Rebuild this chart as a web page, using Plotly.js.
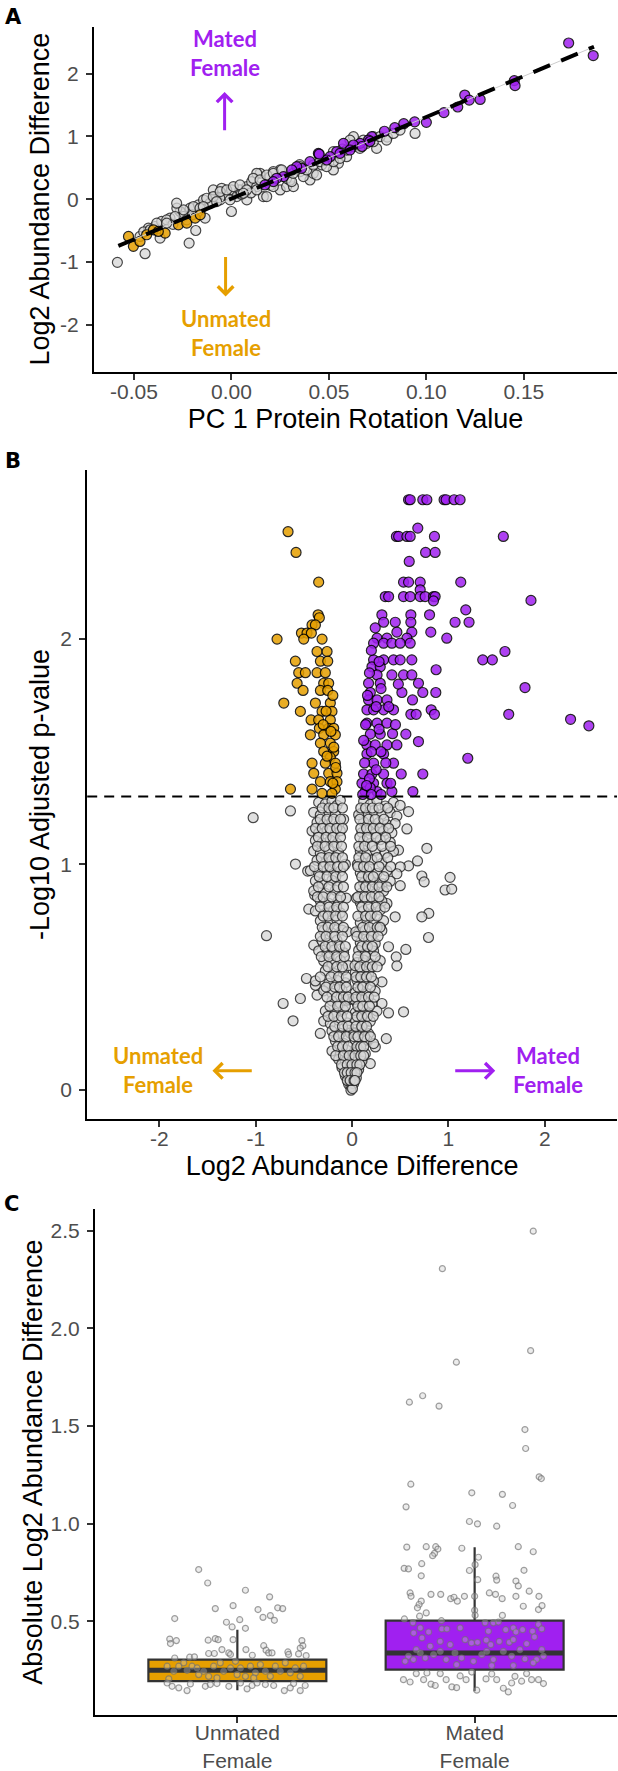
<!DOCTYPE html>
<html>
<head>
<meta charset="utf-8">
<script src="https://cdn.plot.ly/plotly-3.0.1.min.js"></script>
<style>html,body{margin:0;padding:0;background:#fff;}#chart{width:618px;height:1771px;}</style>
</head>
<body>
<div id="chart"></div>
<script>
// ---------- Panel A: PC1 rotation vs log2 abundance difference ----------
const pcaGray = [[-0.0585,-1.007],[-0.0443,-0.869],[-0.0217,-0.700],[-0.0183,-0.499],[-0.0366,-0.620],[0.000,-0.196],[-0.0135,-0.302],[0.0942,1.048],[0.0745,0.810],[0.0549,0.572],[0.0626,0.996],[0.0403,0.306],[0.0352,0.439],[0.025,0.148],[0.0164,0.042],[-0.0392,-0.435],[-0.0358,-0.355],[-0.0315,-0.302],[-0.0263,-0.196],[-0.0246,-0.276],[-0.0212,-0.143],[-0.0169,-0.090],[-0.0143,-0.011],[-0.011,-0.064],[-0.0084,0.042],[-0.0058,-0.011],[-0.0033,0.069],[0.0001,0.148],[0.0027,0.042],[0.0044,0.148],[0.0079,0.201],[0.0104,0.280],[0.013,0.201],[0.0147,0.413],[0.0198,0.360],[0.025,0.466],[0.0283,0.201],[0.0318,0.201],[0.0369,0.360],[0.042,0.413],[0.0463,0.546],[0.0523,0.466],[0.0591,0.678],[0.0677,0.943],[0.0728,0.996],[-0.0093,0.148],[-0.005,0.174],[-0.028,-0.143],[-0.0332,-0.329],[-0.0426,-0.461],[-0.0469,-0.594],[0.0079,-0.011],[0.0181,0.042],[0.0215,0.440],[0.013,0.413],[0.030,0.30],[0.048,0.62],[0.057,0.80],[0.066,0.84],[0.080,0.99],[-0.020,-0.25],[-0.006,0.02],[0.005,0.08],[0.010,0.10],[0.020,0.22],[0.035,0.55],[0.045,0.70],[-0.030,-0.40],[-0.045,-0.52],
[-0.0417,-0.488],[-0.0383,-0.382],[-0.0332,-0.382],[-0.0289,-0.276],[-0.0246,-0.170],[-0.0195,-0.117],[-0.0161,-0.143],[-0.0127,0.015],[-0.0093,0.042],[-0.0058,0.121],[-0.0024,0.148],[0.0010,0.201],[0.0044,0.227],[0.0078,0.148],[0.0112,0.333],[0.0147,0.307],[0.0181,0.386],[0.0215,0.413],[0.0258,0.466],[0.0283,0.333],[0.0309,0.280],[0.0352,0.519],[0.0386,0.466],[0.0420,0.545],[0.0454,0.598],[0.0488,0.519],[0.0523,0.598],[0.0557,0.651],[0.0591,0.783],[0.0625,0.837],[0.0659,0.810],[0.0694,0.890],[0.0728,0.916],[0.0762,0.996],[0.0796,0.942],[0.0831,1.048],[0.0865,1.101],[-0.0281,-0.064],[-0.0229,-0.329],[-0.0144,-0.117],[-0.0076,-0.038],[-0.0007,-0.011],[0.0061,0.095],[0.0130,0.148],[0.0215,0.201],[0.0317,0.413],[0.0437,0.386],[0.0523,0.757],[0.0608,0.942]];
const pcaUnmated = [[-0.0528,-0.594],[-0.0503,-0.752],[-0.0469,-0.673],[-0.0435,-0.567],[-0.040,-0.488],[-0.034,-0.541],[-0.0272,-0.408],[-0.0229,-0.382],[-0.0186,-0.302],[-0.016,-0.249],[-0.0375,-0.514]];
const pcaMated = [[0.173,2.49],[0.1856,2.29],[0.1451,1.89],[0.1455,1.81],[0.1197,1.66],[0.1161,1.47],[0.122,1.58],[0.1276,1.59],[0.109,1.38],[0.100,1.225],[0.094,1.233],[0.0884,1.204],[0.0838,1.14],[0.0785,1.083],[0.072,0.996],[0.0703,0.943],[0.066,0.89],[0.0626,0.864],[0.0575,0.89],[0.054,0.758],[0.0506,0.678],[0.0557,0.731],[0.0446,0.731],[0.0489,0.625],[0.0403,0.599],[0.036,0.492],[0.0335,0.519],[0.031,0.466],[0.0267,0.36],[0.0232,0.333],[0.0215,0.28],[0.0172,0.227],[0.0608,0.784],[0.067,0.84],[0.071,0.92],[0.045,0.72]];
const fitX = [-0.058, 0.186];
const fitY = [-0.745, 2.43];

// ---------- Panel B: volcano ----------
const volcanoGray = [
[-1.027,1.207],[-0.640,1.237],[-0.588,1.001],[-0.889,0.683],[-0.450,0.801],[-0.474,0.493],[-0.716,0.382],[-0.613,0.305],[-0.537,0.404],[-0.364,0.419],[-0.330,0.249],[-0.381,0.463],[-0.398,0.641],[-0.461,0.970],[-0.388,0.863],
[0.776,1.071],[0.569,1.157],[0.586,1.234],[0.679,1.015],[0.586,0.993],[0.500,0.989],[0.724,0.948],[0.748,0.922],[1.017,0.942],[0.965,0.886],[1.034,0.890],[0.500,0.905],[0.796,0.782],[0.724,0.767],[0.793,0.675],[0.447,0.767],[0.378,0.634],[0.558,0.622],[0.458,0.589],[0.465,0.549],[0.310,0.478],[0.310,0.382],[0.534,0.345],[0.378,0.340],[0.355,0.226],[0.241,0.189],[0.189,0.115],[0.482,1.063],[0.310,0.900],[0.362,0.826],[0.293,0.722],
[-0.347,1.275],[-0.278,1.268],[-0.209,1.281],[-0.157,1.262],[-0.122,1.284],[0.120,1.279],[0.189,1.266],[0.258,1.283],[0.344,1.259],[0.430,1.275],[0.499,1.262],
[-0.399,1.231],[-0.330,1.219],[-0.243,1.234],[-0.174,1.221],[0.102,1.229],[0.154,1.215],[0.223,1.238],[0.309,1.222],[0.396,1.230],[0.465,1.214],
[-0.364,1.186],[-0.295,1.177],[-0.209,1.190],[-0.140,1.175],[0.120,1.188],[0.206,1.172],[0.275,1.185],[0.361,1.176],[0.447,1.181],
[-0.416,1.148],[-0.347,1.139],[-0.260,1.151],[-0.174,1.137],[-0.122,1.149],[0.102,1.141],[0.171,1.152],[0.240,1.136],[0.327,1.147],[0.413,1.140],
[-0.381,1.106],[-0.312,1.095],[-0.226,1.108],[-0.157,1.093],[0.120,1.104],[0.189,1.092],[0.292,1.109],[0.396,1.097],
[-0.399,1.060],[-0.330,1.049],[-0.243,1.063],[-0.140,1.051],[0.085,1.058],[0.154,1.047],[0.240,1.062],[0.344,1.050],[0.430,1.057],
[-0.364,1.017],[-0.278,1.005],[-0.209,1.019],[0.102,1.008],[0.206,1.020],[0.309,1.004],
[-0.433,0.972],[-0.347,0.961],[-0.260,0.975],[-0.191,0.959],[-0.122,0.970],[0.085,0.962],[0.154,0.974],[0.258,0.960],[0.361,0.971],[0.465,0.958],
[-0.381,0.926],[-0.312,0.915],[-0.209,0.929],[0.120,0.917],[0.189,0.930],[0.309,0.914],[0.396,0.925],
[-0.399,0.882],[-0.278,0.871],[-0.174,0.885],[0.102,0.874],[0.171,0.886],[0.240,0.869],[0.327,0.881],
[-0.330,0.838],[-0.243,0.827],[-0.140,0.841],[0.085,0.830],[0.154,0.842],[0.258,0.826],[0.309,0.837],
[-0.381,0.793],[-0.278,0.782],[-0.191,0.796],[-0.122,0.784],[0.120,0.794],[0.206,0.781],[0.292,0.797],
[-0.330,0.749],[-0.226,0.738],[-0.157,0.752],[0.085,0.741],[0.154,0.753],[0.223,0.737],[0.327,0.750],
[-0.295,0.705],[-0.209,0.694],[-0.105,0.708],[0.068,0.697],[0.137,0.709],[0.223,0.693],[0.309,0.706],
[-0.312,0.660],[-0.243,0.649],[-0.157,0.663],[0.085,0.652],[0.171,0.664],[0.240,0.648],
[-0.347,0.616],[-0.260,0.605],[-0.191,0.619],[-0.088,0.608],[0.068,0.618],[0.137,0.604],[0.223,0.615],
[-0.295,0.571],[-0.209,0.560],[-0.122,0.574],[0.050,0.563],[0.120,0.575],[0.189,0.559],[0.292,0.572],
[-0.278,0.527],[-0.191,0.516],[-0.088,0.530],[0.033,0.519],[0.102,0.531],[0.171,0.515],
[-0.381,0.482],[-0.243,0.471],[-0.157,0.485],[-0.070,0.474],[0.050,0.486],[0.120,0.470],[0.223,0.481],
[-0.295,0.438],[-0.209,0.427],[-0.105,0.441],[0.033,0.430],[0.085,0.442],[0.154,0.426],[0.240,0.437],
[-0.209,0.393],[-0.122,0.382],[-0.053,0.396],[0.050,0.385],[0.120,0.397],[0.206,0.381],
[-0.278,0.349],[-0.174,0.338],[-0.088,0.352],[0.033,0.341],[0.085,0.353],[0.154,0.337],[0.258,0.348],
[-0.295,0.304],[-0.226,0.293],[-0.140,0.307],[-0.053,0.296],[0.033,0.308],[0.120,0.292],[0.189,0.303],
[-0.209,0.260],[-0.122,0.249],[-0.036,0.263],[0.023,0.252],[0.085,0.264],[0.171,0.248],
[-0.174,0.216],[-0.088,0.205],[0.033,0.219],[0.102,0.208],[0.154,0.220],[0.223,0.204],
[-0.209,0.171],[-0.122,0.160],[-0.053,0.174],[0.016,0.163],[0.068,0.175],[0.137,0.159],
[-0.140,0.134],[-0.070,0.123],[0.033,0.137],[0.102,0.126],
[-0.105,0.097],[-0.036,0.086],[0.016,0.100],[0.068,0.089],
[-0.070,0.060],[-0.026,0.049],[0.009,0.063],[0.044,0.052],
[-0.036,0.023],[-0.012,0.012],[0.016,0.026],[-0.012,-0.003],[0.004,0.004],
[-0.088,1.20],[-0.070,1.00],[-0.060,0.85],[-0.050,0.70],[-0.040,0.55],[-0.030,0.40],[-0.020,0.25],
[0.068,1.22],[0.055,1.00],[0.045,0.85],[0.038,0.70],[0.030,0.55],[0.022,0.40],[0.014,0.25],
[-0.31,1.25],[-0.24,1.25],[-0.19,1.25],[-0.10,1.25],[0.09,1.25],[0.14,1.25],[0.21,1.25],[0.28,1.25],[0.37,1.25],
[-0.33,1.20],[-0.26,1.20],[-0.19,1.20],[-0.12,1.20],[0.08,1.20],[0.17,1.20],[0.24,1.20],[0.33,1.20],
[-0.38,1.16],[-0.31,1.16],[-0.23,1.16],[-0.16,1.16],[-0.10,1.16],[0.09,1.16],[0.15,1.16],[0.22,1.16],[0.29,1.16],[0.38,1.16],
[-0.35,1.12],[-0.27,1.12],[-0.20,1.12],[-0.12,1.12],[0.08,1.12],[0.16,1.12],[0.25,1.12],[0.35,1.12],
[-0.36,1.08],[-0.28,1.08],[-0.19,1.08],[-0.11,1.08],[0.07,1.08],[0.13,1.08],[0.21,1.08],[0.31,1.08],[0.40,1.08],
[-0.32,1.03],[-0.24,1.03],[-0.17,1.03],[-0.10,1.03],[0.07,1.03],[0.14,1.03],[0.26,1.03],[0.37,1.03],
[-0.39,0.99],[-0.30,0.99],[-0.23,0.99],[-0.15,0.99],[-0.09,0.99],[0.06,0.99],[0.12,0.99],[0.18,0.99],[0.28,0.99],[0.40,0.99],
[-0.34,0.945],[-0.26,0.945],[-0.17,0.945],[-0.10,0.945],[0.10,0.945],[0.17,0.945],[0.22,0.945],[0.33,0.945],
[-0.35,0.90],[-0.24,0.90],[-0.15,0.90],[-0.09,0.90],[0.08,0.90],[0.14,0.90],[0.21,0.90],[0.28,0.90],[0.36,0.90],
[-0.36,0.855],[-0.30,0.855],[-0.21,0.855],[-0.12,0.855],[0.06,0.855],[0.13,0.855],[0.20,0.855],[0.28,0.855],
[-0.33,0.81],[-0.24,0.81],[-0.16,0.81],[-0.09,0.81],[0.10,0.81],[0.17,0.81],[0.25,0.81],[0.34,0.81],
[-0.30,0.77],[-0.25,0.77],[-0.17,0.77],[-0.10,0.77],[0.06,0.77],[0.14,0.77],[0.19,0.77],[0.26,0.77],
[-0.31,0.72],[-0.25,0.72],[-0.18,0.72],[-0.09,0.72],[0.11,0.72],[0.18,0.72],[0.26,0.72],[0.29,0.72],
[-0.33,0.68],[-0.27,0.68],[-0.18,0.68],[-0.10,0.68],[0.05,0.68],[0.12,0.68],[0.20,0.68],[0.27,0.68],
[-0.28,0.635],[-0.21,0.635],[-0.13,0.635],[-0.07,0.635],[0.10,0.635],[0.16,0.635],[0.21,0.635],
[-0.32,0.59],[-0.24,0.59],[-0.16,0.59],[-0.08,0.59],[0.06,0.59],[0.14,0.59],[0.24,0.59],
[-0.25,0.545],[-0.16,0.545],[-0.10,0.545],[0.08,0.545],[0.15,0.545],[0.21,0.545],[0.26,0.545],
[-0.33,0.50],[-0.22,0.50],[-0.14,0.50],[-0.06,0.50],[0.04,0.50],[0.09,0.50],[0.15,0.50],[0.20,0.50],
[-0.27,0.455],[-0.18,0.455],[-0.13,0.455],[-0.06,0.455],[0.06,0.455],[0.11,0.455],[0.19,0.455],
[-0.26,0.41],[-0.16,0.41],[-0.09,0.41],[-0.04,0.41],[0.04,0.41],[0.10,0.41],[0.17,0.41],[0.23,0.41],
[-0.23,0.37],[-0.15,0.37],[-0.07,0.37],[0.06,0.37],[0.11,0.37],[0.18,0.37],
[-0.25,0.325],[-0.19,0.325],[-0.11,0.325],[-0.05,0.325],[0.05,0.325],[0.10,0.325],[0.16,0.325],[0.22,0.325],
[-0.18,0.28],[-0.10,0.28],[-0.04,0.28],[0.04,0.28],[0.10,0.28],[0.15,0.28],
[-0.19,0.235],[-0.14,0.235],[-0.06,0.235],[0.02,0.235],[0.06,0.235],[0.13,0.235],[0.19,0.235],
[-0.15,0.19],[-0.10,0.19],[-0.04,0.19],[0.05,0.19],[0.09,0.19],[0.12,0.19],
[-0.17,0.15],[-0.09,0.15],[-0.03,0.15],[0.03,0.15],[0.09,0.15],[0.12,0.15],
[-0.11,0.11],[-0.05,0.11],[0.00,0.11],[0.05,0.11],[0.08,0.11],
[-0.08,0.075],[-0.05,0.075],[-0.01,0.075],[0.03,0.075],[0.05,0.075],
[-0.05,0.04],[-0.02,0.04],[0.02,0.04],[0.03,0.04]
];
const volcanoUnmated = [[-0.665,2.477],[-0.582,2.385],[-0.347,2.253],[-0.353,2.108],[-0.340,2.095],[-0.416,2.063],[-0.381,2.063],[-0.526,2.027],[-0.468,2.027],[-0.423,2.027],[-0.779,2.0],[-0.502,2.0],[-0.312,2.0],[-0.364,1.945],[-0.260,1.945],[-0.589,1.902],[-0.329,1.902],[-0.253,1.902],[-0.554,1.851],[-0.485,1.851],[-0.364,1.851],[-0.278,1.851],[-0.571,1.804],[-0.295,1.804],[-0.243,1.804],[-0.509,1.772],[-0.329,1.772],[-0.253,1.772],[-0.709,1.716],[-0.381,1.716],[-0.226,1.716],[-0.537,1.679],[-0.312,1.679],[-0.209,1.679],[-0.426,1.641],[-0.347,1.641],[-0.226,1.641],[-0.340,1.604],[-0.243,1.604],[-0.191,1.604],[-0.433,1.575],[-0.295,1.575],[-0.174,1.575],[-0.329,1.538],[-0.226,1.538],[-0.295,1.501],[-0.191,1.501],[-0.226,1.475],[-0.416,1.449],[-0.278,1.449],[-0.174,1.449],[-0.398,1.404],[-0.243,1.404],[-0.157,1.404],[-0.329,1.367],[-0.226,1.367],[-0.157,1.367],[-0.640,1.334],[-0.416,1.334],[-0.174,1.334],[-0.312,1.315],[-0.209,1.315],[-0.20,1.75],[-0.27,1.68],[-0.19,1.52],[-0.17,1.43],[-0.22,1.59],[-0.30,1.62],[-0.26,1.48],[-0.20,1.36]];
const volcanoMated = [[0.586,2.619],[0.603,2.619],[0.734,2.619],[0.776,2.619],[0.955,2.619],[0.976,2.619],[1.059,2.619],[1.121,2.619],[0.460,2.456],[0.483,2.456],[0.569,2.456],[0.603,2.456],[0.855,2.456],[1.570,2.456],[0.682,2.493],[0.763,2.385],[0.862,2.385],[0.593,2.345],[0.534,2.253],[0.586,2.253],[0.707,2.253],[1.128,2.253],[0.707,2.219],[0.344,2.189],[0.379,2.189],[0.534,2.189],[0.603,2.189],[0.707,2.189],[0.758,2.189],[0.845,2.189],[0.862,2.189],[0.845,2.170],[1.857,2.172],[1.180,2.130],[0.309,2.108],[0.610,2.108],[0.804,2.108],[0.327,2.075],[0.448,2.075],[0.610,2.075],[1.069,2.075],[1.214,2.075],[0.465,2.031],[0.620,2.031],[0.817,2.031],[0.259,2.004],[0.362,2.004],[0.569,2.004],[0.983,2.004],[0.223,1.982],[0.327,1.982],[0.413,1.982],[0.499,1.982],[0.603,1.982],[1.587,1.945],[0.223,1.908],[0.327,1.908],[0.430,1.908],[0.499,1.908],[0.620,1.908],[1.356,1.908],[1.456,1.908],[0.872,1.864],[0.206,1.877],[0.292,1.877],[0.259,1.841],[0.413,1.841],[0.534,1.841],[0.620,1.841],[0.171,1.804],[0.292,1.804],[0.689,1.804],[1.795,1.785],[0.189,1.763],[0.517,1.763],[0.734,1.763],[0.869,1.763],[0.171,1.730],[0.259,1.730],[0.362,1.730],[0.627,1.730],[0.154,1.686],[0.223,1.686],[0.327,1.686],[0.430,1.686],[0.821,1.686],[0.610,1.666],[0.665,1.666],[0.855,1.666],[1.626,1.666],[2.268,1.644],[2.458,1.615],[0.154,1.627],[0.259,1.627],[0.362,1.627],[0.189,1.578],[0.292,1.578],[0.558,1.578],[0.689,1.545],[0.154,1.530],[0.240,1.530],[0.362,1.530],[0.465,1.530],[0.154,1.490],[0.327,1.490],[1.201,1.471],[0.223,1.449],[0.430,1.449],[0.119,1.401],[0.206,1.401],[0.327,1.401],[0.510,1.401],[0.734,1.401],[0.102,1.360],[0.223,1.360],[0.362,1.360],[0.136,1.323],[0.259,1.323],[0.413,1.323],[0.631,1.323],[0.189,1.340],[0.13,1.45],[0.12,1.55],[0.14,1.62],[0.16,1.75],[0.18,1.85],[0.20,1.95],[0.25,1.70],[0.28,1.60],[0.30,1.50],[0.20,1.50],[0.25,1.42],[0.18,1.38],[0.28,1.90],[0.24,2.05],[0.30,1.78],[0.38,1.70],[0.42,1.58],[0.35,1.45],[0.11,1.31],[0.15,1.35],[0.20,1.31],[0.30,1.31],[0.40,1.36],[0.45,1.62],[0.48,1.80]];
const pThreshold = 1.301;

// ---------- Panel C: box plot of absolute log2 differences ----------
const groups = ['Unmated<br>Female', 'Mated<br>Female'];
const groupPos = [1, 2];
const groupColors = ['#E69F00', '#A020F0'];
const boxLower = [0.147, 0.141];
const boxQ1 = [0.193, 0.252];
const boxMedian = [0.249, 0.338];
const boxQ3 = [0.304, 0.503];
const boxUpper = [0.457, 0.879];
// jittered sample points: [x (group position + jitter), |log2 difference|]
const absUnmated = [[0.837,0.765],[0.875,0.696],[1.034,0.659],[1.136,0.625],[0.736,0.514],[0.907,0.565],[0.982,0.580],[1.087,0.560],[1.170,0.569],[1.191,0.565],[1.108,0.520],[1.139,0.529],[1.156,0.505],[0.954,0.495],[0.978,0.471],[1.010,0.508],[1.034,0.464],[0.715,0.409],[0.718,0.386],[0.743,0.401],[0.877,0.403],[0.907,0.411],[0.919,0.406],[0.982,0.406],[1.272,0.401],[1.276,0.375],[1.265,0.363],[0.879,0.335],[0.903,0.335],[0.935,0.355],[0.964,0.338],[0.971,0.330],[1.036,0.355],[1.063,0.326],[1.111,0.375],[1.121,0.352],[1.132,0.338],[1.146,0.338],[1.213,0.343],[1.216,0.330],[1.258,0.333],[1.290,0.324],[0.799,0.316],[0.819,0.318],[0.736,0.312],[0.704,0.270],[0.732,0.244],[0.753,0.270],[0.774,0.287],[0.788,0.249],[0.809,0.270],[0.837,0.227],[0.858,0.244],[0.879,0.218],[0.900,0.270],[0.928,0.287],[0.942,0.244],[0.971,0.261],[0.992,0.295],[0.999,0.227],[1.013,0.261],[1.034,0.218],[1.055,0.270],[1.076,0.236],[1.097,0.278],[1.118,0.244],[1.139,0.218],[1.160,0.270],[1.181,0.244],[1.202,0.287],[1.223,0.236],[1.244,0.261],[1.265,0.218],[1.279,0.270],[0.711,0.205],[0.830,0.261],[0.914,0.210],[1.069,0.210],[0.704,0.184],[0.725,0.167],[0.753,0.159],[0.788,0.145],[0.802,0.179],[0.865,0.167],[0.886,0.176],[0.914,0.181],[0.964,0.167],[1.013,0.184],[1.041,0.154],[1.062,0.171],[1.083,0.184],[1.118,0.176],[1.153,0.171],[1.198,0.145],[1.223,0.159],[1.265,0.145],[1.286,0.171],[1.237,0.181]];
const absMated = [[2.247,2.498],[1.864,2.306],[2.236,1.886],[1.923,1.827],[1.781,1.655],[1.725,1.622],[1.850,1.602],[2.212,1.482],[2.215,1.385],[2.272,1.240],[2.281,1.231],[1.731,1.202],[1.988,1.158],[2.117,1.150],[1.711,1.086],[2.160,1.093],[1.978,1.011],[2.012,0.999],[2.093,0.987],[1.714,0.880],[1.796,0.882],[1.836,0.882],[1.845,0.870],[1.831,0.848],[1.823,0.836],[1.946,0.874],[2.184,0.882],[2.247,0.856],[2.016,0.828],[2.002,0.790],[1.978,0.760],[2.013,0.713],[1.703,0.771],[1.721,0.768],[1.777,0.795],[1.775,0.733],[2.208,0.761],[2.090,0.731],[2.093,0.711],[2.174,0.706],[2.184,0.681],[1.728,0.645],[1.732,0.628],[1.775,0.603],[1.766,0.586],[1.759,0.569],[1.816,0.638],[1.857,0.638],[1.899,0.616],[1.913,0.623],[1.927,0.603],[1.957,0.628],[2.000,0.628],[2.062,0.645],[2.088,0.638],[2.116,0.616],[2.174,0.628],[2.230,0.654],[2.271,0.628],[2.205,0.577],[2.269,0.560],[2.284,0.580],[1.796,0.543],[1.768,0.526],[2.000,0.556],[2.002,0.531],[2.117,0.530],[1.704,0.512],[1.740,0.492],[1.771,0.466],[1.743,0.440],[1.778,0.415],[1.806,0.445],[1.862,0.461],[1.883,0.461],[1.939,0.466],[1.860,0.503],[2.044,0.492],[2.079,0.492],[2.100,0.496],[2.058,0.449],[2.131,0.457],[2.163,0.466],[2.174,0.445],[2.202,0.457],[2.244,0.449],[2.269,0.483],[2.283,0.461],[1.960,0.406],[1.987,0.389],[2.012,0.392],[2.049,0.403],[2.068,0.380],[2.104,0.397],[2.146,0.392],[2.163,0.406],[2.219,0.385],[2.252,0.420],[1.897,0.380],[1.855,0.397],[1.813,0.372],[1.754,0.355],[1.721,0.321],[1.707,0.295],[1.742,0.304],[1.771,0.338],[1.792,0.312],[1.827,0.329],[1.855,0.346],[1.880,0.304],[1.917,0.338],[1.945,0.312],[1.995,0.295],[2.030,0.329],[2.051,0.346],[2.079,0.304],[2.121,0.346],[2.156,0.321],[2.191,0.355],[2.212,0.307],[2.261,0.304],[2.283,0.355],[2.290,0.321],[1.924,0.278],[2.072,0.273],[2.163,0.273],[2.247,0.287],[1.700,0.201],[1.728,0.189],[1.754,0.232],[1.785,0.201],[1.816,0.178],[1.834,0.171],[1.855,0.232],[1.880,0.201],[1.904,0.164],[1.924,0.160],[1.939,0.220],[1.964,0.201],[2.009,0.147],[2.048,0.205],[2.072,0.230],[2.093,0.201],[2.121,0.157],[2.142,0.138],[2.156,0.184],[2.170,0.218],[2.198,0.193],[2.219,0.232],[2.240,0.201],[2.269,0.201],[2.290,0.181],[1.988,0.240],[1.799,0.235]];
const boxWidth = 0.75;

// ---------- styling ----------
const ORANGE = '#E69F00', PURPLE = '#A020F0';
const tickFont = {family: 'Liberation Sans, Arial, sans-serif', size: 21, color: '#4D4D4D'};
const titleFont = {family: 'Liberation Sans, Arial, sans-serif', size: 27, color: '#000000'};
const annFont = (c) => ({family: 'Lato, Open Sans, sans-serif', size: 22, color: c});
const labelFont = {family: 'DejaVu Sans, sans-serif', size: 21, color: '#000000'};
const xs = a => a.map(p => p[0]);
const ys = a => a.map(p => p[1]);
const grayMarker = {size: 10, color: 'rgba(214,214,214,0.75)', line: {color: 'rgba(30,30,30,0.8)', width: 1.2}};
const colMarker = c => ({size: 10, color: c, opacity: 0.85, line: {color: '#000000', width: 1.2}});

const traces = [
  {type: 'scatter', mode: 'markers', x: xs(pcaGray), y: ys(pcaGray), xaxis: 'x', yaxis: 'y', marker: grayMarker},
  {type: 'scatter', mode: 'markers', x: xs(pcaUnmated), y: ys(pcaUnmated), xaxis: 'x', yaxis: 'y', marker: colMarker(ORANGE)},
  {type: 'scatter', mode: 'markers', x: xs(pcaMated), y: ys(pcaMated), xaxis: 'x', yaxis: 'y', marker: colMarker(PURPLE)},
  {type: 'scatter', mode: 'lines', x: fitX, y: fitY, xaxis: 'x', yaxis: 'y', line: {color: '#CCCCCC', width: 1}},
  {type: 'scatter', mode: 'lines', x: fitX, y: fitY, xaxis: 'x', yaxis: 'y', line: {color: '#000000', width: 4, dash: '18px,12px'}},

  {type: 'scatter', mode: 'markers', x: xs(volcanoGray), y: ys(volcanoGray), xaxis: 'x2', yaxis: 'y2', marker: grayMarker},
  {type: 'scatter', mode: 'markers', x: xs(volcanoUnmated), y: ys(volcanoUnmated), xaxis: 'x2', yaxis: 'y2', marker: colMarker(ORANGE)},
  {type: 'scatter', mode: 'markers', x: xs(volcanoMated), y: ys(volcanoMated), xaxis: 'x2', yaxis: 'y2', marker: colMarker(PURPLE)}
];

groups.forEach((g, i) => {
  traces.push({
    type: 'box', name: g, x: [groupPos[i]], q1: [boxQ1[i]], median: [boxMedian[i]], q3: [boxQ3[i]],
    lowerfence: [boxLower[i]], upperfence: [boxUpper[i]], width: boxWidth, whiskerwidth: 0,
    fillcolor: groupColors[i], line: {color: '#333333', width: 2.2}, boxpoints: false,
    xaxis: 'x3', yaxis: 'y3', hoverinfo: 'y'
  });
  traces.push({
    type: 'scatter', mode: 'lines', x: [groupPos[i] - boxWidth / 2, groupPos[i] + boxWidth / 2],
    y: [boxMedian[i], boxMedian[i]], xaxis: 'x3', yaxis: 'y3', line: {color: '#333333', width: 5}
  });
});
[absUnmated, absMated].forEach(arr => {
  traces.push({
    type: 'scatter', mode: 'markers', x: xs(arr), y: ys(arr), xaxis: 'x3', yaxis: 'y3',
    marker: {size: 6, color: 'rgba(200,200,200,0.35)', line: {color: 'rgba(110,110,110,0.65)', width: 1.2}}
  });
});

const axisBase = {
  showline: true, linecolor: '#000000', linewidth: 2, ticks: 'outside', ticklen: 6, tickwidth: 2,
  tickcolor: '#333333', showgrid: false, zeroline: false, tickfont: tickFont, fixedrange: true
};
const ax = (o) => Object.assign({}, axisBase, o);
const W = 618, H = 1771;
const px2x = p => p / W;
const px2y = p => 1 - p / H;

const layout = {
  width: W, height: H, margin: {l: 0, r: 0, t: 0, b: 0}, showlegend: false,
  paper_bgcolor: '#ffffff', plot_bgcolor: '#ffffff', boxmode: 'overlay',
  xaxis: ax({domain: [px2x(94), px2x(617)], anchor: 'y', range: [-0.0705, 0.1978], ticklabelstandoff: -6,
    tickvals: [-0.05, 0, 0.05, 0.1, 0.15], ticktext: ['-0.05', '0.00', '0.05', '0.10', '0.15'],
    title: {text: 'PC 1 Protein Rotation Value', font: titleFont, standoff: 7}}),
  yaxis: ax({domain: [px2y(371.7), px2y(26.7)], anchor: 'x', range: [-2.75, 2.75], ticklabelstandoff: 3,
    tickvals: [-2, -1, 0, 1, 2], ticktext: ['-2', '-1', '0', '1', '2'],
    title: {text: 'Log2 Abundance Difference', font: titleFont, standoff: 3}}),
  xaxis2: ax({domain: [px2x(87.2), px2x(617)], anchor: 'y2', range: [-2.75, 2.75], ticklabelstandoff: -6,
    tickvals: [-2, -1, 0, 1, 2], ticktext: ['-2', '-1', '0', '1', '2'],
    title: {text: 'Log2 Abundance Difference', font: titleFont, standoff: 7}}),
  yaxis2: ax({domain: [px2y(1119), px2y(470)], anchor: 'x2', range: [-0.131, 2.751], ticklabelstandoff: 3,
    tickvals: [0, 1, 2], ticktext: ['0', '1', '2'],
    title: {text: '-Log10 Adjusted p-value', font: titleFont, standoff: 3}}),
  xaxis3: ax({domain: [px2x(95), px2x(617)], anchor: 'y3', range: [0.4, 2.6], ticklabelstandoff: -8,
    tickvals: groupPos, ticktext: groups}),
  yaxis3: ax({domain: [px2y(1715), px2y(1209.3)], anchor: 'x3', range: [0.02, 2.61], ticklabelstandoff: 3,
    tickvals: [0.5, 1, 1.5, 2, 2.5], ticktext: ['0.5', '1.0', '1.5', '2.0', '2.5'],
    title: {text: 'Absolute Log2 Abundance Difference', font: titleFont, standoff: 0}}),
  shapes: [
    {type: 'line', xref: 'x2 domain', yref: 'y2', x0: 0, x1: 1, y0: pThreshold, y1: pThreshold,
     line: {color: '#000000', width: 2, dash: '10px,7px'}, layer: 'above'}
  ],
  annotations: [
    {xref: 'paper', yref: 'paper', x: px2x(13), y: px2y(17), xanchor: 'center', yanchor: 'middle', text: '<b>A</b>', showarrow: false, font: labelFont},
    {xref: 'paper', yref: 'paper', x: px2x(13), y: px2y(461), xanchor: 'center', yanchor: 'middle', text: '<b>B</b>', showarrow: false, font: labelFont},
    {xref: 'paper', yref: 'paper', x: px2x(12), y: px2y(1204), xanchor: 'center', yanchor: 'middle', text: '<b>C</b>', showarrow: false, font: labelFont},
    {xref: 'x', yref: 'y', x: -0.0035, y: 2.33, text: '<b>Mated<br>Female</b>', showarrow: false, font: annFont(PURPLE)},
    {xref: 'x', yref: 'y', x: -0.003, y: -2.14, text: '<b>Unmated<br>Female</b>', showarrow: false, font: annFont(ORANGE)},
    {xref: 'x', yref: 'y', axref: 'x', ayref: 'y', x: -0.0035, y: 1.71, ax: -0.0035, ay: 1.075, text: '', showarrow: true, arrowhead: 4, arrowsize: 1, arrowwidth: 3, arrowcolor: PURPLE},
    {xref: 'x', yref: 'y', axref: 'x', ayref: 'y', x: -0.003, y: -1.55, ax: -0.003, ay: -0.897, text: '', showarrow: true, arrowhead: 4, arrowsize: 1, arrowwidth: 3, arrowcolor: ORANGE},
    {xref: 'x2', yref: 'y2', x: -2.02, y: 0.085, text: '<b>Unmated<br>Female</b>', showarrow: false, font: annFont(ORANGE)},
    {xref: 'x2', yref: 'y2', x: 2.03, y: 0.085, text: '<b>Mated<br>Female</b>', showarrow: false, font: annFont(PURPLE)},
    {xref: 'x2', yref: 'y2', axref: 'x2', ayref: 'y2', x: -1.45, y: 0.083, ax: -1.026, ay: 0.083, text: '', showarrow: true, arrowhead: 4, arrowsize: 1, arrowwidth: 3, arrowcolor: ORANGE},
    {xref: 'x2', yref: 'y2', axref: 'x2', ayref: 'y2', x: 1.486, y: 0.083, ax: 1.055, ay: 0.083, text: '', showarrow: true, arrowhead: 4, arrowsize: 1, arrowwidth: 3, arrowcolor: PURPLE}
  ]
};

Plotly.newPlot('chart', traces, layout, {staticPlot: true, displayModeBar: false});
</script>
</body>
</html>
